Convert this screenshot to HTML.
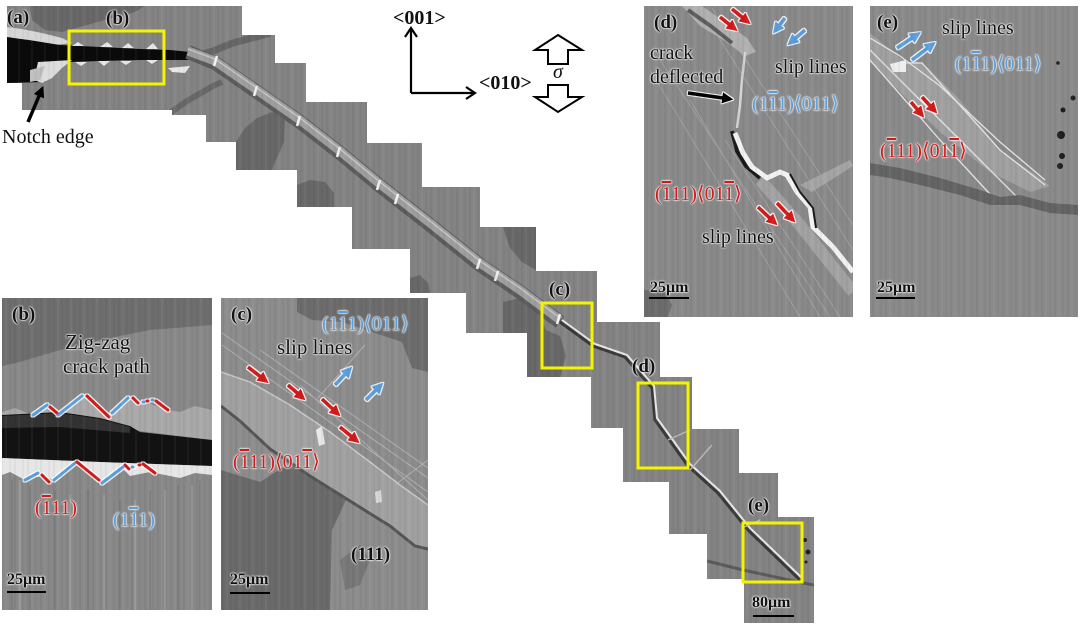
<!DOCTYPE html>
<html><head><meta charset="utf-8">
<style>
html,body{margin:0;padding:0;background:#fff;}
#c{position:relative;width:1080px;height:626px;overflow:hidden;background:#fff;}
svg{position:absolute;left:0;top:0;}
.t{position:absolute;font-family:"Liberation Serif","DejaVu Serif","DejaVu Sans",serif;line-height:1;white-space:nowrap;color:#111;}
.b{font-weight:bold;}
.h{text-shadow:0 0 1.5px #fff,0 0 1.5px #fff,0 0 2.5px #fff;}
.s19{font-size:19px;}.s20{font-size:20px;}.s21{font-size:21px;}.s16{font-size:16px;}
.bl{color:#5a9fdc;}.rd{color:#d21a1a;}
.o{text-decoration:overline;text-decoration-thickness:1.5px;}
</style></head><body><div id="c">
<svg width="1080" height="626" viewBox="0 0 1080 626" xmlns="http://www.w3.org/2000/svg">
<defs>
<clipPath id="tile"><polygon points="7,6 242,6 242,35 275,35 275,63 306,63 306,102 367,102 367,143 422,143 422,187 480,187 480,227 536,227 536,271 597,271 597,322 660,322 660,377 692,377 692,429 739,429 739,473 778,473 778,517 814,517 814,623 744,623 744,579 707,579 707,534 669,534 669,482 623,482 623,428 591,428 591,377 527,377 527,333 466,333 466,293 410,293 410,249 352,249 352,207 297,207 297,170 236,170 236,142 206,142 206,115 172,115 172,110 22,110 22,83 7,83"/></clipPath>
<clipPath id="cb"><rect x="2" y="298" width="210" height="312"/></clipPath>
<clipPath id="cc"><rect x="221" y="298" width="207" height="312"/></clipPath>
<clipPath id="cd"><rect x="644" y="6" width="209" height="311"/></clipPath>
<clipPath id="ce"><rect x="870" y="6" width="208" height="311"/></clipPath>
<clipPath id="all">
<polygon points="7,6 242,6 242,35 275,35 275,63 306,63 306,102 367,102 367,143 422,143 422,187 480,187 480,227 536,227 536,271 597,271 597,322 660,322 660,377 692,377 692,429 739,429 739,473 778,473 778,517 814,517 814,623 744,623 744,579 707,579 707,534 669,534 669,482 623,482 623,428 591,428 591,377 527,377 527,333 466,333 466,293 410,293 410,249 352,249 352,207 297,207 297,170 236,170 236,142 206,142 206,115 172,115 172,110 22,110 22,83 7,83"/>
<rect x="2" y="298" width="210" height="312"/><rect x="221" y="298" width="207" height="312"/>
<rect x="644" y="6" width="209" height="311"/><rect x="870" y="6" width="208" height="311"/>
</clipPath>
<pattern id="st" width="13" height="50" patternUnits="userSpaceOnUse">
<line x1="2" y1="0" x2="2" y2="50" stroke="#000" stroke-opacity="0.08" stroke-width="1"/>
<line x1="6" y1="0" x2="6" y2="50" stroke="#fff" stroke-opacity="0.08" stroke-width="1"/>
<line x1="10" y1="0" x2="10" y2="50" stroke="#000" stroke-opacity="0.06" stroke-width="1"/>
</pattern>
<filter id="gl" x="-30%" y="-30%" width="160%" height="160%" color-interpolation-filters="sRGB">
<feMorphology in="SourceAlpha" operator="dilate" radius="1" result="d"/>
<feFlood flood-color="#fff" flood-opacity="0.85"/>
<feComposite in2="d" operator="in" result="w"/>
<feMerge><feMergeNode in="w"/><feMergeNode in="SourceGraphic"/></feMerge>
</filter>
<marker id="mr" viewBox="0 0 10 10" refX="7" refY="5" markerWidth="3.2" markerHeight="3.2" orient="auto"><path d="M0,0L10,5L0,10z" fill="#d21a1a"/></marker>
<marker id="mb" viewBox="0 0 10 10" refX="7" refY="5" markerWidth="3.2" markerHeight="3.2" orient="auto"><path d="M0,0L10,5L0,10z" fill="#5a9fdc"/></marker>
<marker id="mk" viewBox="0 0 10 10" refX="7" refY="5" markerWidth="3.2" markerHeight="3.2" orient="auto"><path d="M0,0L10,5L0,10z" fill="#000"/></marker>
</defs>

<!-- ===== main staircase mosaic ===== -->
<g clip-path="url(#tile)">
<rect x="0" y="0" width="820" height="626" fill="#838383"/>
<g fill="#686868">
<polygon points="30,6 145,6 135,12 105,20 80,27 62,32 45,30 32,20"/>
<polygon points="236,170 236,142 245,128 257,118 272,112 285,116 284,142 276,160 272,170"/>
<polygon points="297,207 297,185 310,180 325,182 334,193 334,207"/>
<polygon points="503,227 536,227 536,270 522,262 510,248"/>
<polygon points="410,293 410,278 420,275 428,283 430,293"/>
<polygon points="503,333 503,302 520,298 536,306 546,330 560,336 566,356 560,377 527,377 527,333"/>
</g>
<path d="M192,57 L213,51 L233,43 L260,36 L270,33" stroke="#666" stroke-width="7" fill="none"/>
<path d="M170,113 L187,101 L213,86 L222,82" stroke="#686868" stroke-width="6" fill="none"/>
<path d="M707,561 L743,570 L803,583 L814,585" stroke="#5a5a5a" stroke-width="3" fill="none"/>
<polygon points="7,27 22,29 42,33 62,38 72,43 55,45 30,40 7,38" fill="#d6d6d6"/>
<polygon points="7,37 35,41 60,45 100,47 140,49 170,50 190,52 200,56 190,60 170,60 140,60 100,61 70,62 55,66 45,82 7,83" fill="#0a0a0a"/>
<polygon points="38,62 72,60 62,68 52,78 42,83 34,80" fill="#dcdcdc"/>
<polygon points="30,70 45,66 40,80 30,82" fill="#bfbfbf"/>
<g fill="#e8e8e8">
<polygon points="72,46 78,42 84,46"/><polygon points="100,47 107,42 113,47"/><polygon points="122,48 128,43 134,48"/><polygon points="146,49 153,43 158,49"/>
<polygon points="75,62 81,66 87,62"/><polygon points="98,61 104,66 110,61"/><polygon points="120,61 126,65 132,61"/><polygon points="146,60 152,64 158,60"/>
<polygon points="168,68 190,66 185,73 172,72"/>
</g>
<path d="M188,52 L215,63 L257,92 L300,122 L340,153 L380,186 L430,225 L480,265 L520,292 L560,322" stroke="#5c5c5c" stroke-width="14" fill="none" stroke-linejoin="round"/>
<path d="M188,51 L215,61 L257,90 L300,120 L340,151 L380,184 L430,223 L480,263 L520,290 L560,320" stroke="#9e9e9e" stroke-width="9" fill="none" stroke-linejoin="round"/>
<path d="M188,49 L215,59 L257,88 L300,118 L340,149 L380,182 L430,221 L480,261 L520,288 L560,318" stroke="#c4c4c4" stroke-width="1.5" fill="none"/>
<g stroke="#f2f2f2" stroke-width="2.5">
<line x1="217" y1="56" x2="214" y2="66"/><line x1="257" y1="86" x2="254" y2="96"/><line x1="300" y1="116" x2="297" y2="126"/>
<line x1="340" y1="147" x2="337" y2="157"/><line x1="380" y1="180" x2="377" y2="190"/><line x1="398" y1="194" x2="395" y2="204"/>
<line x1="480" y1="259" x2="477" y2="269"/><line x1="498" y1="271" x2="495" y2="281"/><line x1="560" y1="314" x2="557" y2="324"/>
</g>
<path d="M560,322 L593,346 L625,357 L652,388 L655,420 L668,438 L688,466 L718,493 L748,530 L800,580" stroke="#3a3a3a" stroke-width="3" fill="none"/>
<path d="M562,320 L595,344 L627,355 L654,386 L657,418 L670,436 L690,464 L720,491 L750,528 L802,578" stroke="#e6e6e6" stroke-width="2" fill="none"/>
<path d="M668,440 L690,430 M690,470 L712,445 M742,528 L760,520" stroke="#b8b8b8" stroke-width="1.5" fill="none"/>
<circle cx="805" cy="540" r="2" fill="#222"/><circle cx="808" cy="552" r="2.5" fill="#222"/><circle cx="806" cy="562" r="1.5" fill="#222"/>
</g>

<!-- ===== inset b ===== -->
<g clip-path="url(#cb)">
<rect x="2" y="298" width="210" height="312" fill="#888"/>
<polygon points="2,298 212,298 212,325 150,330 100,340 60,350 20,362 2,366" fill="#6e6e6e"/>
<polygon points="2,412 15,408 30,414 47,404 58,413 82,395 109,417 128,398 145,402 168,410 180,412 195,406 212,410 212,440 140,431 2,418" fill="#a8a8a8"/>
<polygon points="2,415 60,412 100,418 130,426 140,432 212,440 212,466 100,462 2,458" fill="#121212"/>
<polygon points="2,416 60,413 100,419 130,427 130,433 60,427 2,428" fill="#333"/>
<polygon points="2,458 100,462 212,466 212,475 195,473 180,478 160,474 150,472 130,476 122,468 100,484 78,463 54,480 42,476 25,480 10,472 2,475" fill="#e6e6e6"/>
<g stroke="#787878" stroke-width="1.5" opacity="0.8">
<line x1="12" y1="480" x2="12" y2="610"/><line x1="30" y1="485" x2="30" y2="610"/><line x1="55" y1="490" x2="55" y2="610"/>
<line x1="88" y1="490" x2="88" y2="610"/><line x1="120" y1="500" x2="120" y2="610"/><line x1="150" y1="490" x2="150" y2="610"/>
<line x1="178" y1="485" x2="178" y2="610"/><line x1="200" y1="480" x2="200" y2="610"/>
</g>
<g stroke="#a2a2a2" stroke-width="1.5" opacity="0.8">
<line x1="20" y1="480" x2="20" y2="610"/><line x1="70" y1="495" x2="70" y2="610"/><line x1="104" y1="495" x2="104" y2="610"/>
<line x1="135" y1="500" x2="135" y2="610"/><line x1="165" y1="490" x2="165" y2="610"/><line x1="192" y1="485" x2="192" y2="610"/>
</g>
<g filter="url(#gl)" stroke-width="3" stroke-linecap="round" fill="none">
<g stroke="#5a9fdc">
<line x1="33" y1="415" x2="47" y2="405"/><line x1="58" y1="415" x2="82" y2="396"/><line x1="112" y1="413" x2="128" y2="398"/><line x1="143" y1="402" x2="144" y2="402"/><line x1="152" y1="400" x2="153" y2="400"/>
<line x1="25" y1="480" x2="38" y2="473"/><line x1="54" y1="480" x2="75" y2="463"/><line x1="102" y1="483" x2="123" y2="467"/><line x1="132" y1="467" x2="133" y2="467"/>
</g>
<g stroke="#d21a1a">
<line x1="50" y1="407" x2="57" y2="413"/><line x1="87" y1="396" x2="109" y2="417"/><line x1="133" y1="398" x2="138" y2="403"/><line x1="147" y1="401" x2="148" y2="401"/><line x1="156" y1="401" x2="168" y2="410"/>
<line x1="42" y1="475" x2="49" y2="482"/><line x1="77" y1="462" x2="99" y2="480"/><line x1="125" y1="465" x2="129" y2="469"/><line x1="139" y1="465" x2="140" y2="465"/><line x1="143" y1="464" x2="155" y2="473"/>
</g>
</g>
</g>

<!-- ===== inset c ===== -->
<g clip-path="url(#cc)">
<rect x="221" y="298" width="207" height="312" fill="#8c8c8c"/>
<polygon points="297,298 428,298 428,372 412,368 402,342 372,332 342,322 312,320 297,312" fill="#6c6c6c"/>
<polygon points="221,470 260,482 282,468 300,466 335,470 346,500 332,530 330,610 221,610" fill="#6a6a6a"/>
<polygon points="340,560 360,545 370,560 360,585 345,590" fill="#777"/>
<g stroke="#b8b8b8" stroke-width="1" fill="none" opacity="0.8">
<line x1="222" y1="333" x2="428" y2="478"/><line x1="222" y1="345" x2="428" y2="492"/><line x1="260" y1="350" x2="428" y2="468"/>
<line x1="300" y1="385" x2="428" y2="500"/><line x1="318" y1="398" x2="365" y2="345"/><line x1="375" y1="500" x2="428" y2="460"/>
<line x1="380" y1="490" x2="428" y2="520"/>
</g>
<polygon points="221,372 250,382 290,405 330,432 370,462 400,485 428,505 428,548 415,545 390,525 350,500 310,475 270,448 240,420 221,405" fill="#a0a0a0"/>
<path d="M221,406 L240,421 L270,449 L310,476 L350,501 L390,526 L415,546 L428,549" stroke="#555" stroke-width="3" fill="none"/>
<path d="M221,372 L250,382 L290,405 L330,432 L370,462 L400,485 L428,505" stroke="#c8c8c8" stroke-width="1.5" fill="none"/>
<polygon points="316,430 322,426 325,444 319,446" fill="#e8e8e8"/>
<polygon points="375,492 381,490 382,502 376,503" fill="#d8d8d8"/>
<g filter="url(#gl)" stroke-width="3.5" fill="none">
<line x1="248" y1="367" x2="266" y2="381" stroke="#d21a1a" marker-end="url(#mr)"/>
<line x1="288" y1="385" x2="303" y2="398" stroke="#d21a1a" marker-end="url(#mr)"/>
<line x1="322" y1="399" x2="338" y2="414" stroke="#d21a1a" marker-end="url(#mr)"/>
<line x1="340" y1="427" x2="357" y2="441" stroke="#d21a1a" marker-end="url(#mr)"/>
<line x1="335" y1="385" x2="350" y2="369" stroke="#5a9fdc" marker-end="url(#mb)"/>
<line x1="366" y1="400" x2="381" y2="385" stroke="#5a9fdc" marker-end="url(#mb)"/>
</g>
</g>

<!-- ===== inset d ===== -->
<g clip-path="url(#cd)">
<rect x="644" y="6" width="209" height="311" fill="#898989"/>
<polygon points="644,290 665,292 672,305 668,317 644,317" fill="#6c6c6c"/>
<g stroke="#a8a8a8" stroke-width="1" opacity="0.7">
<line x1="650" y1="70" x2="800" y2="317"/><line x1="660" y1="60" x2="830" y2="317"/><line x1="700" y1="8" x2="853" y2="250"/>
<line x1="712" y1="8" x2="853" y2="225"/><line x1="690" y1="100" x2="820" y2="317"/><line x1="725" y1="140" x2="840" y2="317"/>
</g>
<polygon points="682,6 702,6 722,20 747,38 756,52 745,56 725,41 700,26" fill="#b0b0b0"/>
<path d="M688,10 L712,27 L732,43" stroke="#5e5e5e" stroke-width="4" fill="none"/>
<path d="M745,52 L742,80 L740,105 L737,128" stroke="#d5d5d5" stroke-width="2.5" fill="none"/>
<path d="M760,180 L800,225 L853,292" stroke="#b2b2b2" stroke-width="12" fill="none" opacity="0.6"/>
<polygon points="800,185 850,160 853,166 812,192" fill="#ababab" opacity="0.8"/>
<path d="M732,131 L737,151 L746,166 L760,178" stroke="#1a1a1a" stroke-width="4" fill="none"/>
<path d="M735,133 L743,153 L752,167 L767,178 L780,172 L787,175 L797,192 L810,207 L813,227 L833,247 L853,272" stroke="#f2f2f2" stroke-width="5" fill="none" stroke-linejoin="round"/>
<path d="M790,174 L800,192 L813,208 L816,228" stroke="#1a1a1a" stroke-width="2" fill="none"/>
<g filter="url(#gl)" stroke-width="3.5" fill="none">
<line x1="720" y1="17" x2="735" y2="29" stroke="#d21a1a" marker-end="url(#mr)"/>
<line x1="732" y1="9" x2="748" y2="22" stroke="#d21a1a" marker-end="url(#mr)"/>
<line x1="785" y1="18" x2="775" y2="31" stroke="#5a9fdc" marker-end="url(#mb)"/>
<line x1="805" y1="30" x2="790" y2="43" stroke="#5a9fdc" marker-end="url(#mb)"/>
<line x1="758" y1="207" x2="775" y2="223" stroke="#d21a1a" marker-end="url(#mr)"/>
<line x1="777" y1="203" x2="793" y2="220" stroke="#d21a1a" marker-end="url(#mr)"/>
<line x1="688" y1="93" x2="730" y2="99" stroke="#000" marker-end="url(#mk)"/>
</g>
</g>

<!-- ===== inset e ===== -->
<g clip-path="url(#ce)">
<rect x="870" y="6" width="208" height="311" fill="#8a8a8a"/>
<polygon points="870,33 905,62 922,62 960,100 1000,150 1040,178 1050,186 1030,192 990,172 940,132 870,62" fill="#a0a0a0"/>
<g stroke="#e4e4e4" stroke-width="1.3" fill="none">
<path d="M870,38 L900,56 L940,86 L1000,142 L1045,180"/>
<path d="M870,50 L950,130 L1020,200"/>
<path d="M870,60 L940,140 L1000,205"/>
<path d="M905,63 L922,63 L1000,150 L1045,185"/>
</g>
<polygon points="890,64 906,60 906,72 893,72" fill="#eeeeee"/>
<polygon points="870,163 900,168 940,178 980,190 1000,197 1020,195 1050,203 1078,205 1078,215 1050,213 1020,205 990,205 960,195 920,185 890,178 870,175" fill="#646464"/>
<g fill="#1e1e1e">
<circle cx="1061" cy="135" r="4"/><circle cx="1063" cy="110" r="2.5"/><circle cx="1073" cy="98" r="2.5"/>
<circle cx="1062" cy="156" r="3"/><circle cx="1060" cy="166" r="3"/><circle cx="1058" cy="63" r="1.8"/>
</g>
<g filter="url(#gl)" stroke-width="3.5" fill="none">
<line x1="897" y1="48" x2="918" y2="34" stroke="#5a9fdc" marker-end="url(#mb)"/>
<line x1="912" y1="60" x2="933" y2="44" stroke="#5a9fdc" marker-end="url(#mb)"/>
<line x1="911" y1="102" x2="922" y2="115" stroke="#d21a1a" marker-end="url(#mr)"/>
<line x1="922" y1="97" x2="935" y2="111" stroke="#d21a1a" marker-end="url(#mr)"/>
</g>
</g>

<!-- streak texture -->
<rect x="0" y="0" width="1080" height="626" fill="url(#st)" clip-path="url(#all)"/>

<!-- yellow boxes -->
<g fill="none" stroke="#f4f400" stroke-width="3">
<rect x="69" y="31" width="95" height="53"/>
<rect x="542" y="303" width="50" height="65"/>
<rect x="638" y="383" width="50" height="85"/>
<rect x="743" y="523" width="59" height="59"/>
</g>

<!-- scale bars -->
<g stroke="#000" stroke-width="2">
<line x1="7" y1="592" x2="46" y2="592"/><line x1="230" y1="593" x2="270" y2="593"/>
<line x1="649" y1="298" x2="689" y2="298"/><line x1="876" y1="298" x2="915" y2="298"/>
<line x1="753" y1="616" x2="794" y2="616"/>
</g>

<!-- notch arrow -->
<line x1="28" y1="122" x2="42" y2="89" stroke="#000" stroke-width="3.5" marker-end="url(#mk)"/>

<!-- axes -->
<path d="M411,93 L411,29 M411,93 L474,93" stroke="#000" stroke-width="2.2" fill="none"/>
<path d="M405,37 L411,28 L417,37 M466,87 L475,93 L466,99" stroke="#000" stroke-width="2.2" fill="none"/>
<polygon points="558,35 582,50 568,50 568,64 548,64 548,50 535,50" fill="#fff" stroke="#000" stroke-width="2"/>
<polygon points="548,85 568,85 568,97 582,97 558,112 535,97 548,97" fill="#fff" stroke="#000" stroke-width="2"/>
</svg>

<!-- main labels -->
<div class="t b s19 h" style="left:7px;top:8px">(a)</div>
<div class="t b s19 h" style="left:106px;top:9px">(b)</div>
<div class="t s20" style="left:2px;top:127px">Notch edge</div>
<div class="t b s20" style="left:393px;top:8px">&lt;001&gt;</div>
<div class="t b s20" style="left:479px;top:73px">&lt;010&gt;</div>
<div class="t s20" style="left:553px;top:62px;font-style:italic">σ</div>
<div class="t b s19 h" style="left:549px;top:280px">(c)</div>
<div class="t b s19 h" style="left:632px;top:357px">(d)</div>
<div class="t b s19 h" style="left:748px;top:496px">(e)</div>
<div class="t b s16 h" style="left:752px;top:595px">80μm</div>

<!-- inset b -->
<div class="t b s19 h" style="left:12px;top:305px">(b)</div>
<div class="t s21 h" style="left:65px;top:332px">Zig-zag</div>
<div class="t s21 h" style="left:63px;top:356px">crack path</div>
<div class="t s20 h rd" style="left:35px;top:498px">(<span class="o">1</span>11)</div>
<div class="t s20 h bl" style="left:113px;top:510px">(1<span class="o">1</span>1)</div>
<div class="t b s16 h" style="left:7px;top:572px">25μm</div>

<!-- inset c -->
<div class="t b s19 h" style="left:231px;top:305px">(c)</div>
<div class="t s20 h bl" style="left:322px;top:314px">(1<span class="o">1</span>1)⟨011⟩</div>
<div class="t s21 h" style="left:277px;top:337px">slip lines</div>
<div class="t s20 h rd" style="left:233px;top:452px">(<span class="o">1</span>11)⟨01<span class="o">1</span>⟩</div>
<div class="t b s19 h" style="left:351px;top:545px">(111)</div>
<div class="t b s16 h" style="left:230px;top:572px">25μm</div>

<!-- inset d -->
<div class="t b s19 h" style="left:654px;top:13px">(d)</div>
<div class="t s20 h" style="left:650px;top:43px">crack</div>
<div class="t s20 h" style="left:650px;top:67px">deflected</div>
<div class="t s20 h" style="left:775px;top:57px">slip lines</div>
<div class="t s20 h bl" style="left:752px;top:94px">(1<span class="o">1</span>1)⟨011⟩</div>
<div class="t s20 h rd" style="left:655px;top:184px">(<span class="o">1</span>11)⟨01<span class="o">1</span>⟩</div>
<div class="t s20 h" style="left:702px;top:227px">slip lines</div>
<div class="t b s16 h" style="left:650px;top:280px">25μm</div>

<!-- inset e -->
<div class="t b s19 h" style="left:877px;top:13px">(e)</div>
<div class="t s20 h" style="left:942px;top:18px">slip lines</div>
<div class="t s20 h bl" style="left:955px;top:54px">(1<span class="o">1</span>1)⟨011⟩</div>
<div class="t s20 h rd" style="left:880px;top:141px">(<span class="o">1</span>11)⟨01<span class="o">1</span>⟩</div>
<div class="t b s16 h" style="left:877px;top:280px">25μm</div>
</div></body></html>
